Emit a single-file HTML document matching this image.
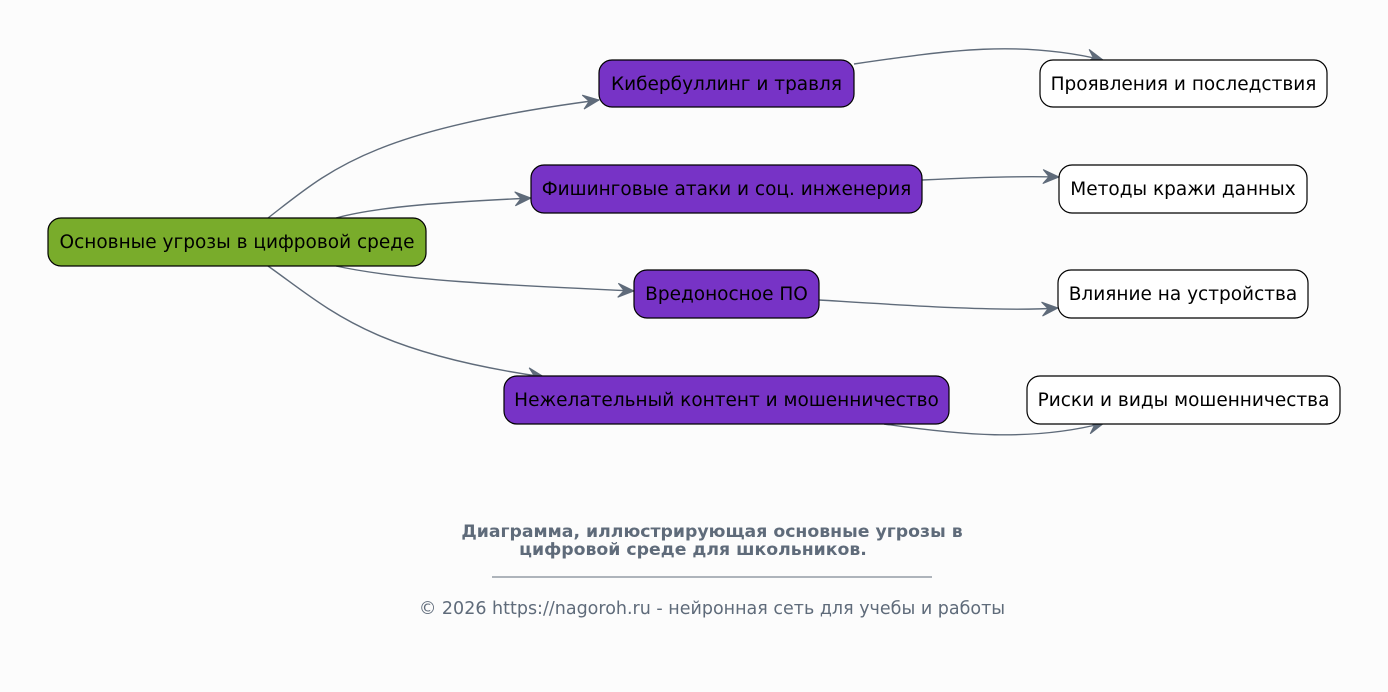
<!DOCTYPE html>
<html><head><meta charset="utf-8"><style>
body{margin:0;background:#fcfcfc;}
svg{display:block;font-family:"DejaVu Sans","Liberation Sans","Noto Sans CJK SC",sans-serif;}
</style></head><body>
<svg width="1388" height="692" viewBox="0 0 1388 692" xmlns="http://www.w3.org/2000/svg">
<defs>
<marker id="a" viewBox="0 0 18 16" refX="17" refY="8" markerWidth="18" markerHeight="16" markerUnits="userSpaceOnUse" orient="auto">
<path d="M1,1 L17,8 L1,15 L7,8 Z" fill="#5f6b7a" stroke="#5f6b7a" stroke-width="1"/>
</marker>
</defs>
<g fill="none" stroke="#5f6b7a" stroke-width="1.4" marker-end="url(#a)">
<path d="M268,218 C330,170 370,130 599,100"/>
<path d="M336,218 C380,206 450,202 531,198"/>
<path d="M336,266 C400,280 500,285 634,291"/>
<path d="M268,266 C330,310 370,352 544,377"/>
<path d="M854,64 C950,50 1020,40 1103,60"/>
<path d="M922,180 C980,177 1020,176 1059,177"/>
<path d="M819,300 C900,305 1000,312 1058,308"/>
<path d="M884,424 C960,435 1030,442 1104,423"/>
</g>
<g stroke="#000" stroke-width="1.2">
<rect x="48" y="218" width="378" height="48" rx="13" fill="#79ac2b"/>
<rect x="599" y="60" width="255" height="47" rx="13" fill="#7733c6"/>
<rect x="531" y="165" width="391" height="48" rx="13" fill="#7733c6"/>
<rect x="634" y="270" width="185" height="48" rx="13" fill="#7733c6"/>
<rect x="504" y="376" width="445" height="48" rx="13" fill="#7733c6"/>
<rect x="1040" y="60" width="287" height="47" rx="13" fill="#fff"/>
<rect x="1059" y="165" width="248" height="48" rx="13" fill="#fff"/>
<rect x="1058" y="270" width="250" height="48" rx="13" fill="#fff"/>
<rect x="1027" y="376" width="313" height="48" rx="13" fill="#fff"/>
</g>
<g font-size="18.5" fill="#000" text-anchor="middle">
<text x="237" y="248">Основные угрозы в цифровой среде</text>
<text x="726.5" y="90">Кибербуллинг и травля</text>
<text x="726.5" y="195">Фишинговые атаки и соц. инженерия</text>
<text x="726.5" y="300">Вредоносное ПО</text>
<text x="726.5" y="406">Нежелательный контент и мошенничество</text>
<text x="1183.5" y="90">Проявления и последствия</text>
<text x="1183" y="195">Методы кражи данных</text>
<text x="1183" y="300">Влияние на устройства</text>
<text x="1183.5" y="406">Риски и виды мошенничества</text>
</g>
<g fill="#5f6b7a" text-anchor="middle">
<text x="712" y="537" font-size="17.3" font-weight="bold">Диаграмма, иллюстрирующая основные угрозы в</text>
<text x="693" y="555" font-size="17.3" font-weight="bold">цифровой среде для школьников.</text>
<line x1="492" y1="577" x2="932" y2="577" stroke="#5f6b7a" stroke-width="1"/>
<text x="712" y="614" font-size="17.5">© 2026 https://nagoroh.ru - нейронная сеть для учебы и работы</text>
</g>
</svg>
</body></html>
